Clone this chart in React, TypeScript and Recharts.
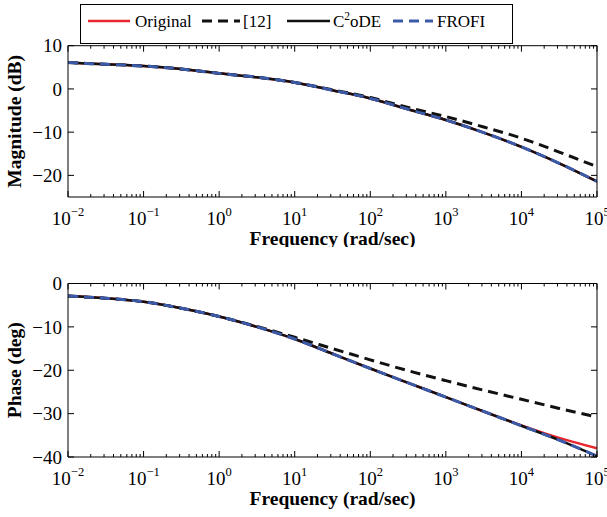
import { LineChart, Line, XAxis, YAxis, Legend, Label } from 'recharts';

// frequency points (rad/sec), half-decade spacing
const freqs = [0.01, 0.0316, 0.1, 0.316, 1, 3.16, 10, 31.6, 100, 316, 1000, 3162, 10000, 31623, 100000];

// magnitude (dB)
const magOriginal = [6.1, 5.7, 5.3, 4.6, 3.6, 2.7, 1.5, -0.3, -2.2, -4.7, -7.2, -10.1, -13.4, -17.2, -21.4];
const magRef12 = [6.1, 5.7, 5.3, 4.6, 3.6, 2.7, 1.5, -0.2, -2.0, -4.3, -6.4, -8.8, -11.4, -14.6, -18.0];
const magC2oDE = [6.1, 5.7, 5.3, 4.6, 3.6, 2.7, 1.5, -0.3, -2.2, -4.7, -7.2, -10.1, -13.4, -17.2, -21.4];
const magFROFI = [6.1, 5.7, 5.3, 4.6, 3.6, 2.7, 1.5, -0.3, -2.2, -4.7, -7.2, -10.1, -13.4, -17.2, -21.4];

// phase (deg)
const phaseOriginal = [-2.9, -3.4, -4.2, -5.7, -7.6, -10.0, -12.8, -16.2, -19.6, -22.9, -26.2, -29.5, -32.7, -35.6, -38.0];
const phaseRef12 = [-2.9, -3.4, -4.2, -5.7, -7.6, -9.9, -12.4, -15.0, -17.6, -20.1, -22.4, -24.6, -26.7, -28.8, -30.8];
const phaseC2oDE = [-2.9, -3.4, -4.2, -5.7, -7.6, -10.0, -12.8, -16.2, -19.6, -22.9, -26.2, -29.5, -32.8, -36.1, -39.8];
const phaseFROFI = [-2.9, -3.4, -4.2, -5.7, -7.6, -10.0, -12.8, -16.2, -19.6, -22.9, -26.2, -29.5, -32.8, -36.1, -39.8];

const freqTicks = [0.01, 0.1, 1, 10, 100, 1000, 10000, 100000];
const freqExponents = ['−2', '−1', '0', '1', '2', '3', '4', '5'];
const magTicks = [-20, -10, 0, 10];
const phaseTicks = [-40, -30, -20, -10, 0];

const minorFreqTicks = freqTicks.slice(0, -1).flatMap((d) => [2, 3, 4, 5, 6, 7, 8, 9].map((m) => d * m));
const allFreqTicks = [...freqTicks, ...minorFreqTicks];

const SERIES = [
  { key: 'orig', name: 'Original', color: '#e8262d', width: 2.5, dash: undefined },
  { key: 'ref', name: '[12]', color: '#111111', width: 3, dash: '10 6' },
  { key: 'c2o', name: 'C2oDE', color: '#111111', width: 2.5, dash: undefined },
  { key: 'fro', name: 'FROFI', color: '#3b5ba9', width: 3, dash: '10 6' },
];

const FONT = '"Liberation Serif", "Times New Roman", serif';

const magData = freqs.map((w, i) => ({
  w,
  orig: magOriginal[i],
  ref: magRef12[i],
  c2o: magC2oDE[i],
  fro: magFROFI[i],
}));

const phaseData = freqs.map((w, i) => ({
  w,
  orig: phaseOriginal[i],
  ref: phaseRef12[i],
  c2o: phaseC2oDE[i],
  fro: phaseFROFI[i],
}));

function FreqTick(props: any) {
  const { x, y, payload, side } = props;
  const i = freqTicks.indexOf(payload.value);
  const len = i >= 0 ? 6 : 3;
  const dir = side === 'bottom' ? -1 : 1;
  return (
    <g>
      <line x1={x} x2={x} y1={y} y2={y + dir * len} stroke="#000" strokeWidth={1} />
      {side === 'bottom' && i >= 0 && (
        <text x={x} y={y + 28} textAnchor="middle" fontSize={19} fontFamily={FONT} fill="#000">
          10
          <tspan dy={-9} fontSize={12.5}>
            {freqExponents[i]}
          </tspan>
        </text>
      )}
    </g>
  );
}

function LevelTick(props: any) {
  const { x, y, payload, side } = props;
  const dir = side === 'left' ? 1 : -1;
  return (
    <g>
      <line x1={x} x2={x + dir * 6} y1={y} y2={y} stroke="#000" strokeWidth={1} />
      {side === 'left' && (
        <text x={x - 6} y={y} dy="0.35em" textAnchor="end" fontSize={19} fontFamily={FONT} fill="#000">
          {String(payload.value).replace('-', '−')}
        </text>
      )}
    </g>
  );
}

function BodeLegend() {
  const slots = [
    { lx: 8, len: 42, tx: 55 },
    { lx: 122, len: 38, tx: 163 },
    { lx: 207, len: 43, tx: 253 },
    { lx: 313, len: 40, tx: 357 },
  ];
  return (
    <svg width={433} height={40} style={{ display: 'block' }}>
      <rect x={0.5} y={0.5} width={432} height={39} fill="#fff" stroke="#000" strokeWidth={1} />
      {SERIES.map((s, i) => (
        <g key={s.key}>
          <line
            x1={slots[i].lx}
            x2={slots[i].lx + slots[i].len}
            y1={17}
            y2={17}
            stroke={s.color}
            strokeWidth={s.width}
            strokeDasharray={s.dash}
          />
          <text x={slots[i].tx} y={23} fontSize={17} fontFamily={FONT} fill="#000">
            {s.key === 'c2o' ? (
              <>
                C
                <tspan dy={-7} fontSize={11.5}>
                  2
                </tspan>
                <tspan dy={7}>oDE</tspan>
              </>
            ) : (
              s.name
            )}
          </text>
        </g>
      ))}
    </svg>
  );
}

function BodePanel({ data, yDomain, yTicks, yTitle, height, margin, legend }: any) {
  return (
    <LineChart width={607} height={height} data={data} margin={margin}>
      <XAxis
        xAxisId="f"
        dataKey="w"
        type="number"
        scale="log"
        domain={[0.01, 100000]}
        allowDataOverflow
        ticks={allFreqTicks}
        interval={0}
        tickSize={0}
        tickMargin={0}
        tickLine={false}
        axisLine={{ stroke: '#000' }}
        tick={(p: any) => <FreqTick {...p} side="bottom" />}
        height={50}
      >
        <Label
          value="Frequency (rad/sec)"
          position="insideBottom"
          offset={2.5}
          style={{ fontFamily: FONT, fontWeight: 'bold', fontSize: 19.5, fill: '#000' }}
        />
      </XAxis>
      <XAxis
        xAxisId="fTop"
        dataKey="w"
        type="number"
        scale="log"
        orientation="top"
        mirror
        domain={[0.01, 100000]}
        allowDataOverflow
        ticks={allFreqTicks}
        interval={0}
        tickSize={0}
        tickMargin={0}
        tickLine={false}
        axisLine={{ stroke: '#000' }}
        tick={(p: any) => <FreqTick {...p} side="top" />}
      />
      <YAxis
        yAxisId="v"
        type="number"
        domain={yDomain}
        allowDataOverflow
        ticks={yTicks}
        interval={0}
        width={68}
        tickSize={0}
        tickMargin={0}
        tickLine={false}
        axisLine={{ stroke: '#000' }}
        tick={(p: any) => <LevelTick {...p} side="left" />}
      >
        <Label
          value={yTitle}
          angle={-90}
          position="insideLeft"
          offset={14}
          style={{ fontFamily: FONT, fontWeight: 'bold', fontSize: 19.5, fill: '#000', textAnchor: 'middle' }}
        />
      </YAxis>
      <YAxis
        yAxisId="vRight"
        type="number"
        orientation="right"
        mirror
        domain={yDomain}
        allowDataOverflow
        ticks={yTicks}
        interval={0}
        tickSize={0}
        tickMargin={0}
        tickLine={false}
        axisLine={{ stroke: '#000' }}
        tick={(p: any) => <LevelTick {...p} side="right" />}
      />
      {SERIES.map((s) => (
        <Line
          key={s.key}
          xAxisId="f"
          yAxisId="v"
          type="monotone"
          dataKey={s.key}
          name={s.name}
          stroke={s.color}
          strokeWidth={s.width}
          strokeDasharray={s.dash}
          dot={false}
          activeDot={false}
          isAnimationActive={false}
        />
      ))}
      {legend && (
        <Legend
          layout="horizontal"
          verticalAlign="middle"
          align="center"
          content={() => <BodeLegend />}
          wrapperStyle={{ position: 'absolute', left: 80, top: 4, width: 433, height: 40, margin: 0 }}
        />
      )}
    </LineChart>
  );
}

export default function App() {
  return (
    <div
      style={{
        position: 'absolute',
        left: 0,
        top: 0,
        width: 607,
        height: 517,
        background: '#fff',
        fontFamily: FONT,
      }}
    >
      <div style={{ position: 'absolute', left: 0, top: 0 }}>
        <BodePanel
          data={magData}
          yDomain={[-25, 10]}
          yTicks={magTicks}
          yTitle="Magnitude (dB)"
          height={247}
          margin={{ top: 45.7, right: 10, bottom: 0, left: 0 }}
          legend
        />
      </div>
      <div style={{ position: 'absolute', left: 0, top: 250 }}>
        <BodePanel
          data={phaseData}
          yDomain={[-40, 0]}
          yTicks={phaseTicks}
          yTitle="Phase (deg)"
          height={267}
          margin={{ top: 33.5, right: 10, bottom: 10, left: 0 }}
        />
      </div>
    </div>
  );
}
